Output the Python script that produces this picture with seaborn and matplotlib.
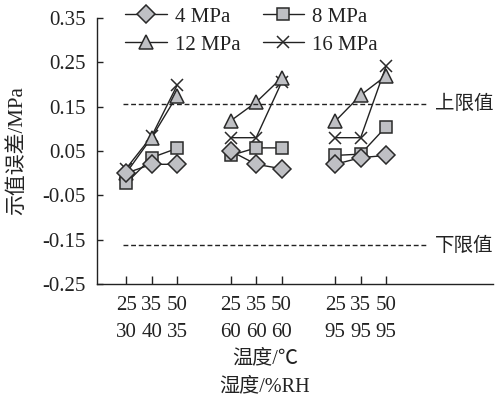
import matplotlib
matplotlib.use("Agg")
import matplotlib.pyplot as plt
import matplotlib.transforms as mtransforms
from matplotlib.lines import Line2D
import seaborn as sns
import pandas as pd
import numpy as np

# ---- data ----
pressures = ["4 MPa", "8 MPa", "12 MPa", "16 MPa"]
temps = ["25", "35", "50"]
humid = [["30", "40", "35"], ["60", "60", "60"], ["95", "95", "95"]]
# values per condition group (3 groups), each with 3 temperatures
err_4 = [[0.00, 0.02, 0.02], [0.05, 0.02, 0.01], [0.02, 0.035, 0.04]]
err_8 = [[-0.023, 0.035, 0.056], [0.04, 0.057, 0.057], [0.04, 0.043, 0.105]]
err_12 = [[0.00, 0.08, 0.175], [0.118, 0.16, 0.215], [0.117, 0.176, 0.22]]
err_16 = [[0.01, 0.083, 0.198], [0.08, 0.08, 0.205], [0.08, 0.08, 0.242]]
upper_limit = 0.156
lower_limit = -0.163
ytick_vals = [-0.25, -0.15, -0.05, 0.05, 0.15, 0.25, 0.35]
ytick_labels = ["-0.25", "-0.15", "-0.05", "0.05", "0.15", "0.25", "0.35"]

GROUP_STEP = 4.1
rows = []
for name, vals in zip(pressures, [err_4, err_8, err_12, err_16]):
    for g in range(3):
        for j in range(3):
            rows.append({"pressure": name, "group": g,
                         "x": g * GROUP_STEP + j, "y": vals[g][j]})
df = pd.DataFrame(rows)

sns.set_style("ticks")
plt.rcParams["font.family"] = ["Liberation Serif", "Noto Sans CJK SC", "DejaVu Sans"]
TXT = "#222222"

fig = plt.figure(figsize=(4.97, 3.97), dpi=100)
ax = fig.add_axes([97 / 497, 1 - 284 / 397, 396 / 497, 266 / 397])

markers = {"4 MPa": "D", "8 MPa": "s", "12 MPa": "^", "16 MPa": "x"}
sizes = {"4 MPa": 9, "8 MPa": 9, "12 MPa": 10, "16 MPa": 9}
face = "#bfc0c4"
edge = "#2a2a2a"
line_c = "#222222"

for name in ["16 MPa", "12 MPa", "8 MPa", "4 MPa"]:
    sub = df[df["pressure"] == name]
    sns.lineplot(data=sub, x="x", y="y", units="group", estimator=None,
                 ax=ax, color=line_c, lw=1.0, marker=markers[name],
                 markersize=sizes[name], markerfacecolor=face,
                 markeredgecolor=edge, markeredgewidth=1.1, legend=False,
                 sort=False)

# limit lines
trans = mtransforms.blended_transform_factory(ax.transAxes, ax.transData)
for val, lab in [(upper_limit, "上限值"), (lower_limit, "下限值")]:
    ax.axhline(val, xmin=0.066, xmax=0.833, color="#222", lw=1.0,
               linestyle=(0, (3.5, 2)))
    ax.text(0.853, val, lab, transform=trans, ha="left", va="center",
            fontsize=14, color=TXT, clip_on=False)

ax.set_xlim(-1.14, 14.39)
ax.set_ylim(-0.25, 0.35)
xt = [g * GROUP_STEP + j for g in range(3) for j in range(3)]
xl = [f"{temps[j]}\n{humid[g][j]}" for g in range(3) for j in range(3)]
ax.set_xticks(xt)
ax.set_xticklabels(xl, fontsize=15, color=TXT, linespacing=1.56)
ax.set_yticks(ytick_vals)
ax.set_yticklabels(ytick_labels, fontsize=15, color=TXT)
ax.tick_params(axis="x", direction="in", length=6, width=1, pad=9, colors="#222")
ax.tick_params(axis="y", direction="in", length=4, width=1, pad=8, colors="#222")
for lbl in ax.get_xticklabels() + ax.get_yticklabels():
    lbl.set_color(TXT)

sns.despine(ax=ax)
for s in ["left", "bottom"]:
    ax.spines[s].set_linewidth(1.0)
    ax.spines[s].set_color("#222")

ax.set_xlabel("温度/℃\n湿度/%RH", fontsize=14.5, color=TXT, linespacing=1.66)
ax.xaxis.set_label_coords(0.424, -0.245)
ax.set_ylabel("示值误差/MPa", fontsize=15, color=TXT)
ax.yaxis.set_label_coords(-0.177, 0.5)

handles = {}
for name in pressures:
    handles[name] = Line2D([], [], color=line_c, lw=1.0, marker=markers[name],
                           markersize=sizes[name], markerfacecolor=face,
                           markeredgecolor=edge, markeredgewidth=1.1)
order = ["4 MPa", "12 MPa", "8 MPa", "16 MPa"]
leg = fig.legend([handles[n] for n in order], order, ncol=2, frameon=False,
                 loc="upper left", bbox_to_anchor=(125 / 497, 1 - 7 / 397),
                 borderpad=0, borderaxespad=0, handlelength=2.0,
                 handletextpad=0.4, columnspacing=1.05, labelspacing=0.4,
                 fontsize=15)
for t in leg.get_texts():
    t.set_color(TXT)

fig.savefig("out.png", dpi=100)
